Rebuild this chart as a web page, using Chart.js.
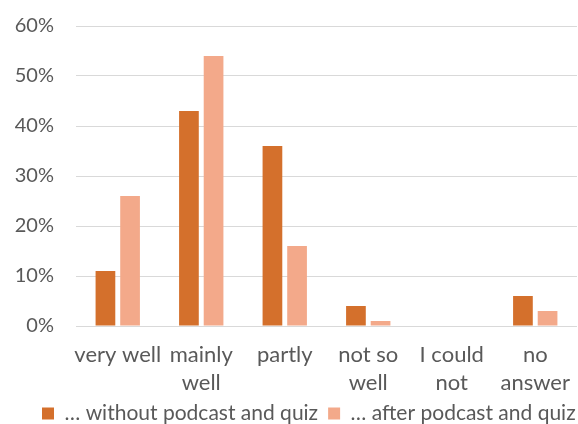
<!DOCTYPE html>
<html>
<head>
<meta charset="utf-8">
<script src="https://cdn.jsdelivr.net/npm/chart.js@4"></script>
<style>
  html, body { margin: 0; padding: 0; background: #fff; }
  #wrap { width: 578px; height: 424px; }
</style>
</head>
<body>
<div id="wrap"><canvas id="barChart" width="578" height="424"></canvas></div>
<script>
// categories and values (percent)
var categories = ['very well', ['mainly', 'well'], 'partly', ['not so', 'well'], ['I could', 'not'], ['no', 'answer']];
var withoutQuiz = [11, 43, 36, 4, 0, 6];
var afterQuiz = [26, 54, 16, 1, 0, 3];
var yTicks = [0, 10, 20, 30, 40, 50, 60];

var textColor = '#595959';
var fontFamily = 'Lato, "Open Sans", sans-serif';

// move the legend row to where the original puts it
var legendShift = {
    id: 'legendShift',
    afterLayout: function (chart) {
        var lg = chart.legend;
        if (!lg || !lg.legendHitBoxes.length) return;
        var pad = lg.options.labels.padding;
        var dx = (42 - pad) - lg.left;
        var dy = 393 - lg.top;
        lg.left += dx;
        lg.right = 640; // keep both items on one row
        lg.top += dy;
        lg.bottom = lg.top + 40;
        lg.legendHitBoxes.forEach(function (b) { b.left += dx; b.top += dy; });
    }
};

var barChart = new Chart(document.getElementById('barChart'), {
    type: 'bar',
    data: {
        labels: categories,
        datasets: [{
            label: '\u2026 without podcast and quiz',
            data: withoutQuiz,
            backgroundColor: '#D4702C',
            borderWidth: 0
        }, {
            label: '\u2026 after podcast and quiz',
            data: afterQuiz,
            backgroundColor: '#F3A98A',
            borderWidth: 0
        }]
    },
    options: {
        responsive: false,
        animation: false,
        categoryPercentage: 0.59,
        barPercentage: 0.8,
        layout: { padding: { top: 26, right: 1, left: 0, bottom: 0 } },
        scales: {
            x: {
                grid: { display: false, drawTicks: false },
                border: { display: false },
                afterFit: function (scale) {
                    scale.height = 73;
                    scale.paddingLeft = 0;
                    scale.paddingRight = 0;
                },
                ticks: {
                    color: textColor,
                    font: { family: fontFamily, size: 22, lineHeight: 1.27 },
                    padding: 15,
                    maxRotation: 0,
                    autoSkip: false
                }
            },
            y: {
                min: 0,
                max: 60,
                afterBuildTicks: function (scale) {
                    scale.ticks = yTicks.map(function (v) { return { value: v }; });
                },
                afterFit: function (scale) {
                    scale.width = 76;
                    scale.paddingTop = 0;
                    scale.paddingBottom = 0;
                },
                grid: { color: '#D9D9D9', lineWidth: 1, drawTicks: false },
                border: { display: false },
                ticks: {
                    color: textColor,
                    font: { family: fontFamily, size: 20 },
                    padding: 22,
                    callback: function (v) { return v + '%'; }
                }
            }
        },
        plugins: {
            legend: {
                position: 'bottom',
                align: 'start',
                maxHeight: 25,
                labels: {
                    color: textColor,
                    font: { family: fontFamily, size: 21 },
                    boxWidth: 12,
                    boxHeight: 12,
                    padding: 10
                }
            },
            tooltip: { enabled: false }
        }
    },
    plugins: [legendShift]
});
</script>
</body>
</html>
